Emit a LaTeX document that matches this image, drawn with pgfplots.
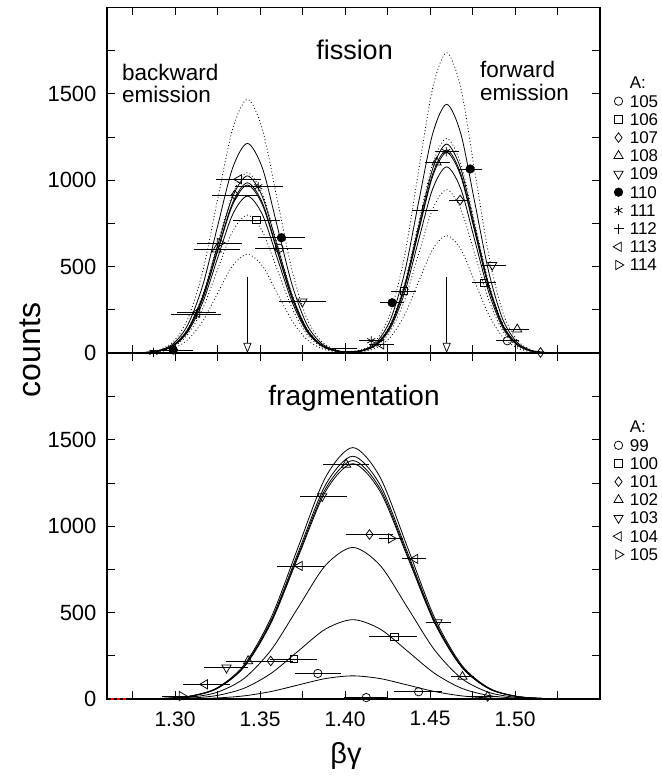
\documentclass[border=0pt]{standalone}
\usepackage{fontspec}
\setmainfont{Liberation Sans}
\usepackage{pgfplots}
\usepackage{pgfplotstable}
\pgfplotsset{compat=1.18}
\usetikzlibrary{arrows.meta}

\pgfplotstableread{
x       d1     s1     d2     s2     s3     s4     s5     d3     d4
1.2600  0      0      0      0      0      0      0      0      0
1.2726  0.49   0.41   0.35   0.34   0.33   0.33   0.30   0.27   0.19
1.2814  3.21   2.66   2.28   2.24   2.16   2.13   1.99   1.75   1.25
1.2901  16.3   13.5   11.6   11.4   10.9   10.8   10.1   8.9    6.3
1.2989  64.4   53.3   45.8   45.0   43.2   42.7   39.9   35.0   25.1
1.3076  198.6  164.1  141.1  138.7  133.3  131.5  122.9  108.0  77.4
1.3164  476.7  393.9  338.7  332.8  319.8  315.6  294.8  259.1  185.7
1.3251  890.3  735.7  632.6  621.7  597.4  589.5  550.7  484.0  346.9
1.3339  1295.5 1070.5 920.4  904.6  869.3  857.8  801.3  704.2  504.8
1.3426  1468   1213   1043   1025   985    972    908    798    572
1.3514  1295.5 1070.5 920.4  904.6  869.3  857.8  801.3  704.2  504.8
1.3601  890.3  735.7  632.6  621.7  597.4  589.5  550.7  484.0  346.9
1.3689  476.7  393.9  338.7  332.8  319.8  315.6  294.8  259.1  185.7
1.3776  198.6  164.1  141.1  138.7  133.3  131.5  122.9  108.0  77.4
1.3864  64.4   53.3   45.8   45.0   43.2   42.7   39.9   35.0   25.1
1.3951  17.1   14.2   12.2   12.0   11.4   11.3   10.6   9.3    6.6
1.4010  8.6    7.1    6.1    6.0    5.8    5.7    5.3    4.7    3.4
1.4103  20.2   16.7   14.4   14.0   13.6   13.5   12.5   11.0   7.8
1.4186  76.3   63.2   54.5   53.1   51.6   50.9   47.3   41.5   29.9
1.4268  235.2  194.7  168.0  163.6  159.0  156.9  145.7  127.9  92.0
1.4351  564.3  467.2  403.3  392.6  381.5  376.7  349.7  306.8  220.8
1.4433  1054.1 872.8  753.3  733.3  712.6  703.5  653.2  573.1  412.4
1.4516  1533.8 1269.9 1096.1 1066.9 1036.9 1023.7 950.5  834.0  600.1
1.4598  1738   1439   1242   1209   1175   1160   1077   945    680
1.4681  1533.8 1269.9 1096.1 1066.9 1036.9 1023.7 950.5  834.0  600.1
1.4763  1054.1 872.8  753.3  733.3  712.6  703.5  653.2  573.1  412.4
1.4846  564.3  467.2  403.3  392.6  381.5  376.7  349.7  306.8  220.8
1.4928  235.2  194.7  168.0  163.6  159.0  156.9  145.7  127.9  92.0
1.5011  76.3   63.2   54.5   53.1   51.6   50.9   47.3   41.5   29.9
1.5093  19.3   16.0   13.8   13.4   13.0   12.9   12.0   10.5   7.5
1.5176  3.81   3.15   2.72   2.65   2.57   2.54   2.36   2.07   1.49
1.5258  0.58   0.48   0.42   0.41   0.39   0.39   0.36   0.32   0.23
1.5500  0      0      0      0      0      0      0      0      0
}\fission

\pgfplotstableread{
x      a      b      c      d      e      f      g
1.2600 0      0      0      0      0      0      0
1.2766 0.49   0.47   0.46   0.46   0.29   0.15   0.04
1.2926 3.19   3.08   3.02   2.98   1.92   1.01   0.29
1.3086 16.2   15.6   15.3   15.1   9.7    5.1    1.5
1.3246 63.9   61.7   60.6   59.8   38.5   20.2   5.9
1.3406 196.9  190.1  186.7  184.3  118.7  62.1   18.1
1.3566 472.4  456.2  448.1  442.2  284.8  149.0  43.5
1.3726 882.5  852.1  837.0  826.1  531.9  278.4  81.3
1.3886 1284.0 1239.9 1217.9 1202.0 774.0  405.1  118.3
1.4046 1455   1405   1380   1362   877    459    134
1.4206 1284.0 1239.9 1217.9 1202.0 774.0  405.1  118.3
1.4366 882.5  852.1  837.0  826.1  531.9  278.4  81.3
1.4526 472.4  456.2  448.1  442.2  284.8  149.0  43.5
1.4686 196.9  190.1  186.7  184.3  118.7  62.1   18.1
1.4846 63.9   61.7   60.6   59.8   38.5   20.2   5.9
1.5006 16.2   15.6   15.3   15.1   9.7    5.1    1.5
1.5166 3.19   3.08   3.02   2.98   1.92   1.01   0.29
1.5326 0.49   0.47   0.46   0.46   0.29   0.15   0.04
1.5500 0      0      0      0      0      0      0
}\fragm

\pgfplotsset{
  panel/.style={
    scale only axis, width=493pt, height=345.6pt,
    xmin=1.26, xmax=1.55, ymin=0, ymax=2000,
    xtick={1.30,1.35,1.40,1.45,1.50},
    minor xtick={1.275,1.325,1.375,1.425,1.475,1.525},
    ytick={0,500,1000,1500},
    minor ytick={250,750,1250,1750},
    tick align=inside,
    major tick length=8pt, minor tick length=8pt,
    every tick/.style={line width=0.8pt, black},
    axis line style={line width=1.2pt},
    /pgf/number format/assume math mode=true,
    /pgf/number format/1000 sep={},
    yticklabel style={font=\fontsize{22}{22}\selectfont, xshift=-7pt},
    xticklabel style={font=\fontsize{21}{21}\selectfont, yshift=-9pt},
    legend cell align=left,
    legend image code/.code={\draw[#1] plot coordinates {(0pt,3pt)};},
    legend style={draw=none, fill=none, anchor=north west,
      font=\fontsize{17}{17}\selectfont, inner sep=0pt, row sep=0pt,
      column sep=6pt, nodes={inner sep=0pt, text height=12pt, text depth=6.2pt}},
  },
  curve/.style={black, line width=0.8pt, smooth, forget plot, mark=none},
  dcurve/.style={curve, dash pattern=on 0.9pt off 2.4pt},
  pts/.style={only marks, black, mark size=4.2pt,
    mark options={solid, fill=white, line width=0.75pt},
    error bars/x dir=both, error bars/x explicit, error bars/error mark=none,
    error bars/error bar style={line width=0.8pt, solid, black}},
  tri/.style={mark=triangle, mark size=5.3pt},
  sq/.style={mark=square, mark size=3.7pt},
  dia/.style={mark=diamond, mark size=4.8pt},
}

\begin{document}
\begin{tikzpicture}
\useasboundingbox (-107pt,-77pt) rectangle (554pt,699pt);

% ---------------- fission panel ----------------
\begin{axis}[panel, at={(0pt,346pt)}, anchor=south west, xticklabels=\empty,
  legend style={at={(1.0264,0.7995)}}]
\addplot[dcurve] table[x=x,y=d1]{\fission};
\addplot[curve]  table[x=x,y=s1]{\fission};
\addplot[dcurve] table[x=x,y=d2]{\fission};
\addplot[curve]  table[x=x,y=s2]{\fission};
\addplot[curve]  table[x=x,y=s3]{\fission};
\addplot[curve]  table[x=x,y=s4]{\fission};
\addplot[curve]  table[x=x,y=s5]{\fission};
\addplot[dcurve] table[x=x,y=d3]{\fission};
\addplot[dcurve] table[x=x,y=d4]{\fission};
\addplot[forget plot, black, line width=0.7pt, -{Triangle[open,length=10pt,width=8pt,line width=0.7pt]}] coordinates {(1.3426,440) (1.3426,0)};
\addplot[forget plot, black, line width=0.7pt, -{Triangle[open,length=10pt,width=8pt,line width=0.7pt]}] coordinates {(1.4598,440) (1.4598,0)};

\node[font=\fontsize{27}{27}\selectfont] at (axis cs:1.4056,1753) {fission};
\node[anchor=west, inner sep=0pt, font=\fontsize{22.5}{22.5}\selectfont] at (axis cs:1.2688,1626) {backward};
\node[anchor=west, inner sep=0pt, font=\fontsize{22.5}{22.5}\selectfont] at (axis cs:1.2688,1499) {emission};
\node[anchor=west, inner sep=0pt, font=\fontsize{22.5}{22.5}\selectfont] at (axis cs:1.4794,1638) {forward};
\node[anchor=west, inner sep=0pt, font=\fontsize{22.5}{22.5}\selectfont] at (axis cs:1.4794,1505) {emission};

\addlegendimage{empty legend}\addlegendentry{A:}
\addplot[pts, mark=o] coordinates {(1.3612,606) += (0.0137,0) -= (0.0143,0) (1.4955,71) += (0.0066,0) -= (0.0068,0)};
\addlegendentry{105}
\addplot[pts, sq] coordinates {(1.3479,770) += (0.0137,0) -= (0.0139,0) (1.4345,359) += (0.0071,0) -= (0.0074,0) (1.4818,407) += (0.0071,0) -= (0.0073,0)};
\addlegendentry{106}
\addplot[pts, dia] coordinates {(1.3352,914) += (0.0136,0) -= (0.0137,0) (1.4677,885) += (0.0052,0) -= (0.0067,0) (1.515,3) += (0.004,0) -= (0.004,0)};
\addlegendentry{107}
\addplot[pts, tri] coordinates {(1.3245,600) += (0.0135,0) -= (0.0135,0) (1.4539,1103) += (0.0076,0) -= (0.0068,0) (1.5013,137) += (0.0068,0) -= (0.0069,0)};
\addlegendentry{108}
\addplot[pts, tri, every mark/.append style={rotate=180}] coordinates {(1.3749,297) += (0.0137,0) -= (0.0139,0) (1.4866,509) += (0.0079,0) -= (0.0067,0)};
\addlegendentry{109}
\addplot[pts, mark=*, every mark/.append style={fill=black}] coordinates {(1.299,17) += (0.0117,0) -= (0.0135,0) (1.3626,667) += (0.0136,0) -= (0.0139,0) (1.4277,291) += (0.0069,0) -= (0.0074,0) (1.4736,1065) += (0.0069,0) -= (0.0072,0)};
\addlegendentry{110}
\addplot[pts, mark=asterisk, mark size=4.6pt] coordinates {(1.2873,4) += (0.0127,0) -= (0.0127,0) (1.349,962) += (0.0145,0) -= (0.0138,0) (1.4154,71) += (0.0066,0) -= (0.0069,0) (1.4595,1165) += (0.0074,0) -= (0.0066,0)};
\addlegendentry{111}
\addplot[pts, mark=+, mark size=5pt] coordinates {(1.3123,224) += (0.0146,0) -= (0.0146,0) (1.40,28) += (0.0073,0) -= (0.0073,0) (1.4455,828) += (0.0092,0) -= (0.0061,0)};
\addlegendentry{112}
\addplot[pts, tri, every mark/.append style={rotate=90}] coordinates {(1.3376,1005) += (0.0132,0) -= (0.0132,0) (1.313,233) += (0.0114,0) -= (0.012,0) (1.4212,50) += (0.0078,0) -= (0.0068,0)};
\addlegendentry{113}
\addplot[pts, tri, every mark/.append style={rotate=-90}] coordinates {(1.3264,637) += (0.0132,0) -= (0.0132,0)};
\addlegendentry{114}
\end{axis}

% ---------------- fragmentation panel ----------------
\begin{axis}[panel, at={(0pt,0pt)}, anchor=south west,
  xticklabels={1.30,1.35,1.40,1.45,1.50},
  legend style={at={(1.0264,0.805)}}]
\addplot[curve] table[x=x,y=a]{\fragm};
\addplot[curve] table[x=x,y=b]{\fragm};
\addplot[curve] table[x=x,y=c]{\fragm};
\addplot[curve] table[x=x,y=d]{\fragm};
\addplot[curve] table[x=x,y=e]{\fragm};
\addplot[curve] table[x=x,y=f]{\fragm};
\addplot[curve] table[x=x,y=g]{\fragm};
\addplot[forget plot, red, line width=1.2pt, dash pattern=on 3pt off 3pt] coordinates {(1.2625,0) (1.2715,0)};

\node[font=\fontsize{28}{28}\selectfont] at (axis cs:1.4053,1742) {fragmentation};

\addlegendimage{empty legend}\addlegendentry{A:}
\addplot[pts, mark=o] coordinates {(1.384,148) += (0.0138,0) -= (0.0136,0) (1.4125,8) += (0.0124,0) -= (0.0128,0) (1.4433,42) += (0.0139,0) -= (0.0143,0)};
\addlegendentry{99}
\addplot[pts, sq] coordinates {(1.3698,231) += (0.0135,0) -= (0.0141,0) (1.429,360) += (0.0135,0) -= (0.0146,0)};
\addlegendentry{100}
\addplot[pts, dia] coordinates {(1.3563,220) += (0.0129,0) -= (0.0135,0) (1.4144,952) += (0.0136,0) -= (0.0137,0) (1.4839,15) += (0.006,0) -= (0.011,0)};
\addlegendentry{101}
\addplot[pts, tri] coordinates {(1.343,220) += (0.013,0) -= (0.013,0) (1.4007,1357) += (0.0137,0) -= (0.0139,0) (1.4691,129) += (0.0069,0) -= (0.0068,0)};
\addlegendentry{102}
\addplot[pts, tri, every mark/.append style={rotate=180}] coordinates {(1.3303,181) += (0.0125,0) -= (0.0133,0) (1.3866,1173) += (0.0143,0) -= (0.0133,0) (1.4544,443) += (0.0079,0) -= (0.0068,0)};
\addlegendentry{103}
\addplot[pts, tri, every mark/.append style={rotate=90}] coordinates {(1.3176,85) += (0.0147,0) -= (0.0131,0) (1.3733,770) += (0.0141,0) -= (0.0135,0) (1.4413,811) += (0.0063,0) -= (0.0076,0)};
\addlegendentry{104}
\addplot[pts, tri, every mark/.append style={rotate=-90}] coordinates {(1.304,17) += (0.0087,0) -= (0.0118,0) (1.4271,929) += (0.0068,0) -= (0.0069,0)};
\addlegendentry{105}
\end{axis}

\node[rotate=90, font=\fontsize{32}{32}\selectfont] at (-77pt,349pt) {counts};
\node[font=\fontsize{29}{29}\selectfont] at (239pt,-57pt) {βγ};
\end{tikzpicture}
\end{document}
